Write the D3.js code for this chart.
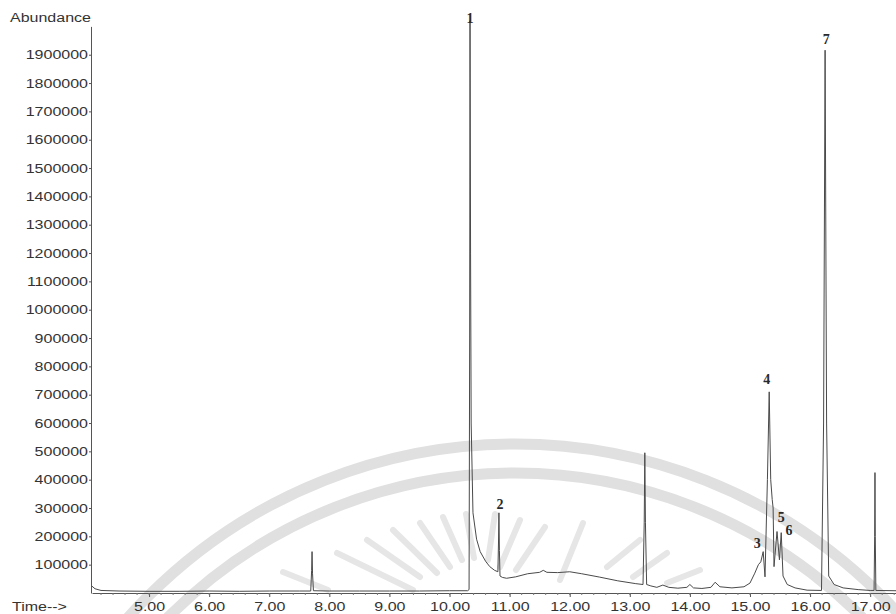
<!DOCTYPE html>
<html>
<head>
<meta charset="utf-8">
<script src="https://cdn.jsdelivr.net/npm/d3@7"></script>
<style>
  body { margin: 0; background: #fff; }
  svg { display: block; font-family: "Liberation Sans", Arial, sans-serif; }
</style>
</head>
<body>
<div id="chart"></div>
<script>
// chromatogram trace (time in min, abundance)
const times = [
  4.05, 4.10, 4.20, 4.50, 5.00, 5.50, 6.00, 6.50, 7.00, 7.50,
  7.69, 7.705, 7.712, 7.72, 7.735, 8.00, 8.50, 9.00, 9.50, 10.00,
  10.30, 10.325, 10.335, 10.341, 10.35, 10.36, 10.39, 10.45, 10.51, 10.60,
  10.67, 10.75, 10.805, 10.815, 10.822, 10.83, 10.84, 10.88, 10.95, 11.10,
  11.30, 11.50, 11.56, 11.62, 11.80, 12.00, 12.20, 12.50, 12.80, 13.10,
  13.22, 13.24, 13.25, 13.26, 13.28, 13.35, 13.45, 13.55, 13.65, 13.80,
  13.95, 14.00, 14.06, 14.20, 14.35, 14.42, 14.50, 14.70, 14.90, 15.00,
  15.08, 15.14, 15.18, 15.22, 15.25, 15.29, 15.32, 15.345, 15.37, 15.385,
  15.40, 15.45, 15.49, 15.52, 15.55, 15.62, 15.75, 15.95, 16.19, 16.225,
  16.25, 16.275, 16.31, 16.40, 16.55, 16.80, 17.00, 17.065, 17.075, 17.08,
  17.085, 17.095, 17.43
];
const abundance = [
  24000, 15000, 9000, 7000, 6000, 6000, 7000, 6000, 7000, 7000,
  7000, 80000, 146000, 70000, 8000, 7000, 7000, 7000, 7000, 8000,
  8000, 12000, 900000, 2020000, 1200000, 600000, 283000, 190000, 146000, 112000,
  93000, 80000, 75000, 180000, 283000, 150000, 60000, 55000, 52000, 57000,
  68000, 73000, 80000, 73000, 72000, 75000, 68000, 56000, 43000, 33000,
  30000, 250000, 495000, 250000, 30000, 25000, 20000, 28000, 20000, 17000,
  20000, 30000, 18000, 16000, 20000, 38000, 22000, 18000, 22000, 35000,
  70000, 100000, 110000, 146000, 57000, 400000, 710000, 400000, 330000, 300000,
  93000, 217000, 117000, 213000, 60000, 30000, 18000, 10000, 9000, 600000,
  1916000, 600000, 60000, 30000, 18000, 12000, 9000, 9000, 200000, 425000,
  200000, 9000, 8000
];

const xTicks = [5, 6, 7, 8, 9, 10, 11, 12, 13, 14, 15, 16, 17];
const yTicks = [100000, 200000, 300000, 400000, 500000, 600000, 700000, 800000, 900000, 1000000,
                1100000, 1200000, 1300000, 1400000, 1500000, 1600000, 1700000, 1800000, 1900000];

// peak numbers and where they sit (time, abundance)
const peakNames = ['1', '2', '3', '4', '5', '6', '7'];
const peakLabelTimes = [10.34, 10.84, 15.12, 15.28, 15.52, 15.65, 16.27];
const peakLabelValues = [2029000, 314000, 173000, 755000, 265000, 219000, 1955000];

const width = 896, height = 614;
const stretch = 1.28;   // the scan is wider than tall

const x = d3.scaleLinear().domain([4.05, 17.43]).range([92, 896]);
const y = d3.scaleLinear().domain([0, 2000000]).range([593, 26.4]);

const svg = d3.select('#chart').append('svg')
    .attr('width', width)
    .attr('height', height);

// widen text the way the scanned page is
function widen(sel) {
  sel.each(function () {
    const w = this.getComputedTextLength();
    d3.select(this).attr('textLength', w * stretch).attr('lengthAdjust', 'spacingAndGlyphs');
  });
}

// watermark in the background
const wm = svg.append('g')
    .attr('fill', 'none');
[518, 489].forEach(r => {
  wm.append('circle')
    .attr('cx', 515).attr('cy', 962).attr('r', r)
    .attr('stroke', '#e0e0e0')
    .attr('stroke-width', 11);
});
const rays = [
  [283, 572, 328, 590], [337, 553, 413, 590], [367, 540, 420, 577], [393, 530, 437, 573],
  [420, 523, 450, 567], [443, 517, 462, 560], [466, 514, 474, 558], [495, 514, 488, 560],
  [520, 520, 500, 567], [545, 527, 516, 570], [583, 523, 560, 580], [640, 540, 607, 567],
  [667, 553, 633, 577], [700, 570, 667, 583]
];
wm.selectAll('line.ray')
  .data(rays)
  .enter()
  .append('line')
    .attr('class', 'ray')
    .attr('x1', d => d[0]).attr('y1', d => d[1])
    .attr('x2', d => d[2]).attr('y2', d => d[3])
    .attr('stroke', '#e6e6e6')
    .attr('stroke-width', 6)
    .attr('stroke-linecap', 'round');

// y axis
const yAxis = svg.append('g')
    .attr('transform', 'translate(91,0)')
    .call(d3.axisLeft(y)
      .tickValues(yTicks)
      .tickSize(2)
      .tickPadding(1)
      .tickSizeOuter(0)
      .tickFormat(d3.format('d')));
yAxis.selectAll('path, line').attr('stroke', '#555');
yAxis.selectAll('text')
    .attr('font-size', '12.5px')
    .attr('font-family', '"Liberation Sans", Arial, sans-serif')
    .attr('fill', '#333')
    .call(widen);

// x axis
const xAxis = svg.append('g')
    .attr('transform', `translate(0,${y(0)})`)
    .call(d3.axisBottom(x)
      .tickValues(xTicks)
      .tickSize(4)
      .tickPadding(5)
      .tickSizeOuter(0)
      .tickFormat(d3.format('.2f')));
xAxis.selectAll('path, line').attr('stroke', '#555');
xAxis.selectAll('text')
    .attr('font-size', '12.5px')
    .attr('font-family', '"Liberation Sans", Arial, sans-serif')
    .attr('fill', '#333')
    .call(widen);

// minor ticks on the time axis
svg.append('g')
  .selectAll('line')
  .data(d3.range(4.2, 17.41, 0.2))
  .enter()
  .append('line')
    .attr('x1', d => x(d)).attr('x2', d => x(d))
    .attr('y1', y(0)).attr('y2', y(0) + 2)
    .attr('stroke', '#777');

// axis titles
svg.append('text')
    .attr('x', 10)
    .attr('y', 22)
    .attr('font-size', '12.5px')
    .attr('fill', '#333')
    .text('Abundance')
    .call(widen);

svg.append('text')
    .attr('x', 12)
    .attr('y', 611)
    .attr('font-size', '12.5px')
    .attr('fill', '#333')
    .text('Time-->')
    .call(widen);

// the trace
const line = d3.line()
    .x(d => x(d[0]))
    .y(d => y(d[1]));

svg.append('path')
    .datum(d3.zip(times, abundance))
    .attr('d', line)
    .attr('fill', 'none')
    .attr('stroke', '#4a4a4a')
    .attr('stroke-width', 1)
    .attr('stroke-linejoin', 'round');

// peak numbers
svg.append('g')
  .selectAll('text')
  .data(peakNames)
  .enter()
  .append('text')
    .attr('x', (d, i) => x(peakLabelTimes[i]))
    .attr('y', (d, i) => y(peakLabelValues[i]))
    .attr('text-anchor', 'middle')
    .attr('dominant-baseline', 'central')
    .attr('font-family', '"Liberation Serif", "Times New Roman", serif')
    .attr('font-weight', 'bold')
    .attr('font-size', '14px')
    .attr('fill', '#2a2a2a')
    .text(d => d);
</script>
</body>
</html>
